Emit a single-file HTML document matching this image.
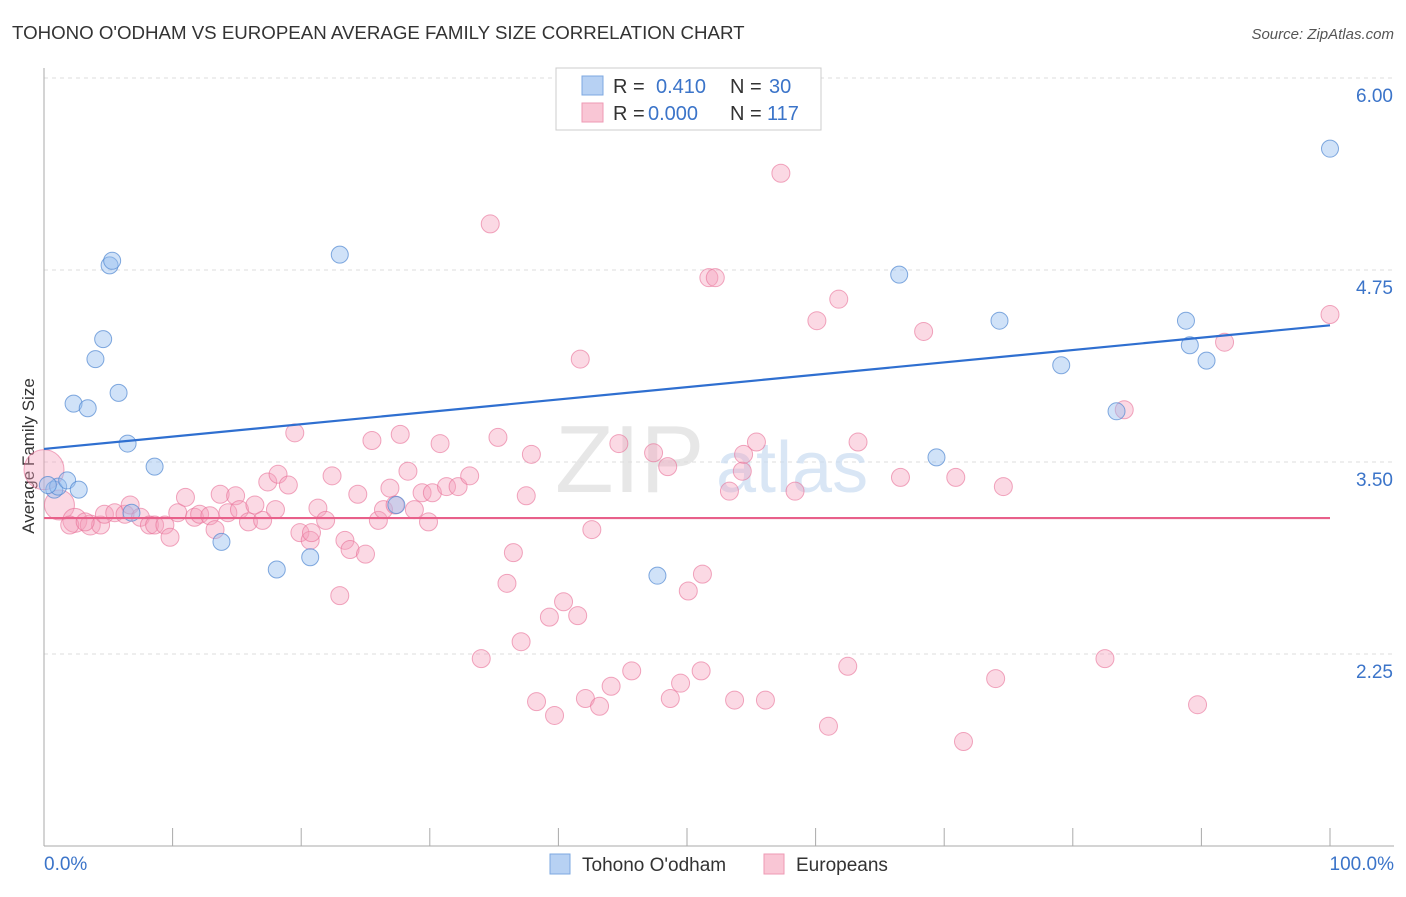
<!DOCTYPE html>
<html><head><meta charset="utf-8"><style>
body{margin:0;background:#fff;font-family:"Liberation Sans",sans-serif;}
svg text{font-family:"Liberation Sans",sans-serif;}
</style></head><body>
<svg id="chart" width="1406" height="892" xmlns="http://www.w3.org/2000/svg">
<text x="12" y="39" font-size="18.7" fill="#333">TOHONO O'ODHAM VS EUROPEAN AVERAGE FAMILY SIZE CORRELATION CHART</text>
<text x="1394" y="39" font-size="15" fill="#555" text-anchor="end" font-style="italic">Source: ZipAtlas.com</text>
<text transform="translate(34,456) rotate(-90)" font-size="17" fill="#333" text-anchor="middle">Average Family Size</text>
<g id="grid"></g>
<g id="axes"></g>
<text x="555" y="492" font-size="96" fill="#ddd" font-family="Liberation Serif" opacity="0.7">ZIP</text>
<text x="716" y="492" font-size="72" fill="#c9dcf2" opacity="0.7">atlas</text>
<g id="pts"></g>
<g id="lines"></g>
<g>
<rect x="556" y="68" width="265" height="62" fill="#fff" stroke="#ccc"/>
<rect x="582" y="76" width="21" height="19" fill="#b7d1f3" stroke="#7ea8e0"/>
<rect x="582" y="103" width="21" height="19" fill="#f9c6d5" stroke="#ee9ab4"/>
<text x="613" y="93" font-size="20" fill="#333">R =</text>
<text x="656" y="93" font-size="20" fill="#3b74c9">0.410</text>
<text x="730" y="93" font-size="20" fill="#333">N =</text>
<text x="769" y="93" font-size="20" fill="#3b74c9">30</text>
<text x="613" y="120" font-size="20" fill="#333">R =</text>
<text x="648" y="120" font-size="20" fill="#3b74c9">0.000</text>
<text x="730" y="120" font-size="20" fill="#333">N =</text>
<text x="767" y="120" font-size="20" fill="#3b74c9">117</text>
</g>
<g>
<rect x="550" y="854" width="20" height="20" fill="#b7d1f3" stroke="#7ea8e0"/>
<text x="582" y="871" font-size="19" fill="#333">Tohono O'odham</text>
<rect x="764" y="854" width="20" height="20" fill="#f9c6d5" stroke="#ee9ab4"/>
<text x="796" y="871" font-size="19" fill="#333">Europeans</text>
</g>
</svg>
<script>
const yTicks=[2.25,3.50,4.75,6.00];
const yTickLabels=["2.25","3.50","4.75","6.00"];
const blueX=[0.8,1.1,1.8,2.7,2.3,3.4,4.0,4.6,5.1,5.3,5.8,6.5,6.8,8.6,13.8,18.1,20.7,23.0,27.4,47.7,66.5,69.4,74.3,79.1,83.4,88.8,89.1,90.4,100,0.3];
const blueY=[3.32,3.34,3.38,3.32,3.88,3.85,4.17,4.30,4.78,4.81,3.95,3.62,3.17,3.47,2.98,2.80,2.88,4.85,3.22,2.76,4.72,3.53,4.42,4.13,3.83,4.42,4.26,4.16,5.54,3.35];
const pinkX=[0,1.2,2.4,3.6,4.4,2.0,3.2,4.7,5.5,6.3,6.7,7.5,8.2,8.6,9.4,9.8,10.4,11.0,11.7,12.1,12.9,13.3,13.7,14.3,14.9,15.2,15.9,16.4,17.0,17.4,18.0,18.2,19.0,19.5,19.9,20.7,20.8,21.3,21.9,22.4,23.0,23.4,23.8,24.4,25.0,25.5,26.0,26.4,26.9,27.3,27.7,28.3,28.8,29.4,29.9,30.2,30.8,31.3,32.2,33.1,34.0,34.7,35.3,36.0,36.5,37.1,37.5,37.9,38.3,39.3,39.7,40.4,41.5,41.7,42.1,42.6,43.2,44.1,44.7,45.7,47.4,48.5,48.7,49.5,50.1,51.1,51.2,51.7,52.2,53.3,53.7,54.3,54.4,55.4,56.1,57.3,58.4,60.1,61.0,61.8,62.5,63.3,66.6,68.4,70.9,71.5,74.0,74.6,82.5,84.0,89.7,91.8,100];
const pinkY=[3.45,3.22,3.12,3.09,3.09,3.09,3.11,3.16,3.17,3.16,3.22,3.14,3.09,3.09,3.09,3.01,3.17,3.27,3.14,3.16,3.15,3.06,3.29,3.17,3.28,3.19,3.11,3.22,3.12,3.37,3.19,3.42,3.35,3.69,3.04,2.99,3.04,3.20,3.12,3.41,2.63,2.99,2.93,3.29,2.90,3.64,3.12,3.19,3.33,3.22,3.68,3.44,3.19,3.30,3.11,3.30,3.62,3.34,3.34,3.41,2.22,5.05,3.66,2.71,2.91,2.33,3.28,3.55,1.94,2.49,1.85,2.59,2.50,4.17,1.96,3.06,1.91,2.04,3.62,2.14,3.56,3.47,1.96,2.06,2.66,2.14,2.77,4.70,4.70,3.31,1.95,3.44,3.55,3.63,1.95,5.38,3.31,4.42,1.78,4.56,2.17,3.63,3.40,4.35,3.40,1.68,2.09,3.34,2.22,3.84,1.92,4.28,4.46];
const pinkBig=[20,15,12,10];
const blueTrend=[3.585,4.39];
const pinkTrend=[3.135,3.135];
const NS="http://www.w3.org/2000/svg";
const X=v=>44+v*12.86;
const Y=v=>462-(v-3.5)*153.6;
function mk(t,a,p){const e=document.createElementNS(NS,t);for(const k in a)e.setAttribute(k,a[k]);p.appendChild(e);return e;}
const grid=document.getElementById('grid'),axes=document.getElementById('axes');
yTicks.forEach((t,i)=>{
 const l=mk('line',{x1:44,x2:1394,y1:Y(t),y2:Y(t),stroke:'#ddd','stroke-dasharray':'4,4'},grid);
 
 
 const tx=mk('text',{x:1393,y:Y(t)+24,'font-size':19,fill:'#3b74c9','text-anchor':'end'},axes);
 tx.textContent=yTickLabels[i];
 
 
});
const ya=mk('line',{x1:44,x2:44,y1:68,y2:846,stroke:'#aaa'},axes);


const xa=mk('line',{x1:44,x2:1394,y1:846,y2:846,stroke:'#aaa'},axes);


for(let i=1;i<=10;i++){const t=mk('line',{x1:X(i*10),x2:X(i*10),y1:828,y2:846,stroke:'#aaa'},axes);
 
 }
const l0=mk('text',{x:44,y:870,'font-size':19,fill:'#3b74c9'},axes);l0.textContent='0.0%';


const l1=mk('text',{x:1394,y:870,'font-size':19,fill:'#3b74c9','text-anchor':'end'},axes);l1.textContent='100.0%';


const pts=document.getElementById('pts');
pinkX.forEach((x,i)=>{const c=mk('circle',{cx:X(x),cy:Y(pinkY[i]),r:pinkBig[i]||9,fill:'rgba(246,160,187,0.4)',stroke:'rgba(232,110,150,0.6)','stroke-width':1},pts);
 
 });
blueX.forEach((x,i)=>{const c=mk('circle',{cx:X(x),cy:Y(blueY[i]),r:8.5,fill:'rgba(150,190,240,0.45)',stroke:'rgba(80,135,210,0.7)','stroke-width':1},pts);
 
 });
const lines=document.getElementById('lines');
const bt=mk('line',{x1:X(0),x2:X(100),y1:Y(blueTrend[0]),y2:Y(blueTrend[1]),stroke:'#2f6fd0','stroke-width':2.2},lines);


const pt=mk('line',{x1:X(0),x2:X(100),y1:Y(pinkTrend[0]),y2:Y(pinkTrend[1]),stroke:'#e8608a','stroke-width':2.2},lines);


</script>
</body></html>
